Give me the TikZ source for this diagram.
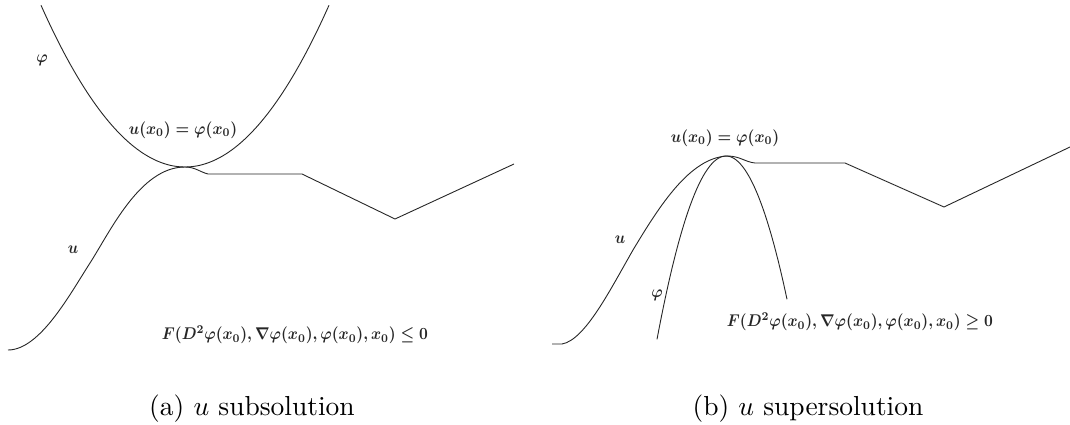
\documentclass[tikz,border=0pt]{standalone}
\begin{document}
\begin{tikzpicture}[x=1pt,y=-1pt,
  curve/.style={line width=0.9pt, black!85, line join=round},
  lbl/.style={xscale=1.53, yscale=1.7, inner sep=0pt, font=\boldmath, text=black!85},
  captext/.style={scale=2.75, inner sep=0pt, anchor=base}]
\useasboundingbox (0,0) rectangle (1070,425);
% ---------- (a) subsolution ----------
\draw[curve, domain=41:329, samples=90] plot (\x, {167-0.78*((\x-185)/10)^2});
\coordinate (a0) at (8,350);
\coordinate (a1) at (90,263);
\coordinate (aT) at (185,167);
\coordinate (a2) at (208,174);
\coordinate (a3) at (302,174);
\coordinate (a4) at (395,219);
\coordinate (a5) at (514,164);
\draw[curve] (a0) .. controls (40,350) and (70,294) .. (a1)
  .. controls (110,232) and (140,167) .. (aT)
  .. controls (195,167) and (200,172) .. (a2) -- (a3) -- (a4) -- (a5);
\node[lbl] (phiA) at (42,60) {$\varphi$};
\node[lbl] (uA) at (73,250) {$u$};
\node[lbl] (eqA) at (183,130) {$u(x_0)=\varphi(x_0)$};
\node[lbl] (FA) at (295,335) {$F(D^2\varphi(x_0),\nabla\varphi(x_0),\varphi(x_0),x_0)\le 0$};
% ---------- (b) supersolution ----------
\draw[curve, domain=657:787, samples=60] plot (\x, {156+3.85*((\x-726)/10)^2});
\coordinate (b0) at (552,344);
\coordinate (b1) at (562,344);
\coordinate (b2) at (633,250);
\coordinate (bT) at (727,156);
\coordinate (b3) at (755,163);
\coordinate (b4) at (845,163);
\coordinate (b5) at (944,207);
\coordinate (b6) at (1070,147);
\draw[curve] (b0) -- (b1) .. controls (585,340) and (610,290) .. (b2)
  .. controls (660,205) and (690,158) .. (bT)
  .. controls (740,156) and (745,162) .. (b3) -- (b4) -- (b5) -- (b6);
\node[lbl] (eqB) at (725,138) {$u(x_0)=\varphi(x_0)$};
\node[lbl] (uB) at (620,240) {$u$};
\node[lbl] (phiB) at (657,295) {$\varphi$};
\node[lbl] (FB) at (860,322) {$F(D^2\varphi(x_0),\nabla\varphi(x_0),\varphi(x_0),x_0)\ge 0$};
% ---------- captions ----------
\node[captext] (capA) at (252,415) {(a) $u$ subsolution};
\node[captext] (capB) at (808,415) {(b) $u$ supersolution};
\end{tikzpicture}
\end{document}
